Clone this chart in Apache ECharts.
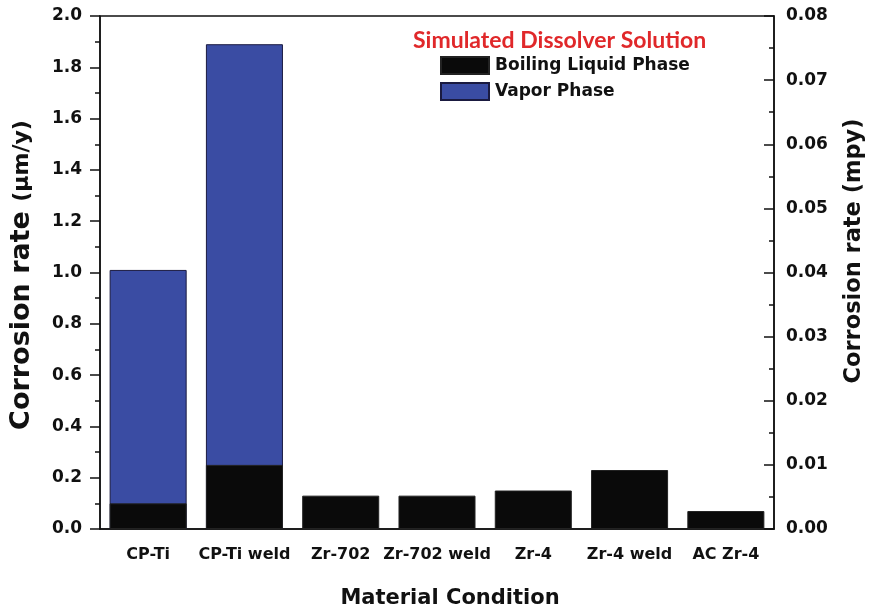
<!DOCTYPE html>
<html>
<head>
<meta charset="utf-8">
<script src="https://cdn.jsdelivr.net/npm/echarts@6/dist/echarts.min.js"></script>
<style>
  html, body { margin: 0; padding: 0; background: #fff; }
  #chart { width: 872px; height: 613px; }
</style>
</head>
<body>
<div id="chart"></div>
<script>
// Material conditions on the category axis
const categories = ['CP-Ti', 'CP-Ti weld', 'Zr-702', 'Zr-702 weld', 'Zr-4', 'Zr-4 weld', 'AC Zr-4'];
// Corrosion rates in µm/y
const boilingLiquid = [0.10, 0.25, 0.13, 0.13, 0.15, 0.23, 0.07];
const vaporPhase = [1.01, 1.89, null, null, null, null, null];
// Axis ranges / tick steps
const leftTicks = { min: 0, max: 2.0, step: 0.2 };
const rightTicks = { min: 0, max: 0.08, step: 0.01, minorStep: 0.005 };

const FONT = 'DejaVu Sans';
const BLUE = '#3a4ca3';
const BLACK = '#0a0a0a';
const INK = '#111';

const chart = echarts.init(document.getElementById('chart'), null, { renderer: 'canvas' });

chart.setOption({
  backgroundColor: '#ffffff',
  animation: false,
  title: {
    text: 'Simulated Dissolver Solution',
    left: 413, top: 29, padding: 0,
    textStyle: { fontFamily: 'Lato', fontWeight: 'bold', fontSize: 23, color: '#e0282a' }
  },
  legend: {
    orient: 'vertical',
    left: 440, top: 56, padding: 0,
    itemWidth: 48, itemHeight: 17, itemGap: 7,
    data: [
      { name: 'Boiling Liquid Phase', icon: 'rect' },
      { name: 'Vapor Phase', icon: 'rect' }
    ],
    textStyle: { fontFamily: FONT, fontWeight: 'bold', fontSize: 17, color: INK, padding: [0, 0, 0, 1] }
  },
  grid: {
    left: 100, right: 98, top: 16, bottom: 84,
    show: true, borderColor: INK, borderWidth: 1.5, backgroundColor: 'transparent'
  },
  xAxis: [
    {
      type: 'category', data: categories, position: 'bottom',
      axisLine: { lineStyle: { color: INK, width: 1.5 } },
      axisTick: { alignWithLabel: true, length: 10, lineStyle: { color: INK, width: 1.5 } },
      axisLabel: { interval: 0, fontFamily: FONT, fontWeight: 'bold', fontSize: 16, color: INK, margin: 18 },
      splitLine: { show: false }
    },
    {
      // boundary ticks between categories
      type: 'category', data: categories, position: 'bottom',
      axisLine: { show: false },
      axisTick: { interval: 0, length: 5, lineStyle: { color: INK, width: 1.5 } },
      axisLabel: { show: false },
      splitLine: { show: false }
    }
  ],
  yAxis: [
    {
      type: 'value', position: 'left',
      min: leftTicks.min, max: leftTicks.max, interval: leftTicks.step,
      axisLine: { show: true, lineStyle: { color: INK, width: 1.5 } },
      axisTick: { show: true, length: 10, lineStyle: { color: INK, width: 1.5 } },
      minorTick: { show: true, splitNumber: 2, length: 5, lineStyle: { color: INK, width: 1.5 } },
      axisLabel: {
        fontFamily: FONT, fontWeight: 'bold', fontSize: 17, color: INK, margin: 18,
        formatter: v => v.toFixed(1)
      },
      splitLine: { show: false }
    },
    {
      type: 'value', position: 'right',
      min: rightTicks.min, max: rightTicks.max, interval: rightTicks.step,
      axisLine: { show: true, lineStyle: { color: INK, width: 1.5 } },
      axisTick: { show: true, inside: true, length: 10, lineStyle: { color: INK, width: 1.5 } },
      axisLabel: {
        fontFamily: FONT, fontWeight: 'bold', fontSize: 17, color: INK, margin: 12,
        formatter: v => v.toFixed(2)
      },
      splitLine: { show: false }
    },
    {
      // short inward half-step ticks on the mpy scale
      type: 'value', position: 'right', offset: 0,
      min: rightTicks.min, max: rightTicks.max, interval: rightTicks.minorStep,
      axisLine: { show: false },
      axisTick: { show: true, inside: true, length: 5, lineStyle: { color: INK, width: 1.5 } },
      axisLabel: { show: false },
      splitLine: { show: false }
    }
  ],
  series: [
    {
      name: 'Vapor Phase', type: 'bar', xAxisIndex: 0, yAxisIndex: 0,
      data: vaporPhase,
      barCategoryGap: '20%', barGap: '-100%',
      itemStyle: { color: BLUE, borderColor: '#1a1a40', borderWidth: 1 }
    },
    {
      name: 'Boiling Liquid Phase', type: 'bar', xAxisIndex: 0, yAxisIndex: 0,
      data: boilingLiquid,
      barCategoryGap: '20%', barGap: '-100%',
      itemStyle: { color: BLACK, borderColor: '#222', borderWidth: 1 }
    }
  ],
  graphic: [
    {
      type: 'text', x: 22, y: 275, rotation: Math.PI / 2,
      style: {
        text: '{a|Corrosion rate }{b|(µm/y)}',
        align: 'center', verticalAlign: 'middle',
        rich: {
          a: { fontFamily: FONT, fontWeight: 'bold', fontSize: 27, fill: INK },
          b: { fontFamily: FONT, fontWeight: 'bold', fontSize: 22, fill: INK }
        }
      }
    },
    {
      type: 'text', x: 854, y: 251, rotation: Math.PI / 2,
      style: {
        text: 'Corrosion rate (mpy)',
        align: 'center', verticalAlign: 'middle',
        fontFamily: FONT, fontWeight: 'bold', fontSize: 22.5, fill: INK
      }
    },
    {
      type: 'text', x: 450, y: 599,
      style: {
        text: 'Material Condition',
        align: 'center', verticalAlign: 'middle',
        fontFamily: FONT, fontWeight: 'bold', fontSize: 21, fill: INK
      }
    }
  ]
});
</script>
</body>
</html>
